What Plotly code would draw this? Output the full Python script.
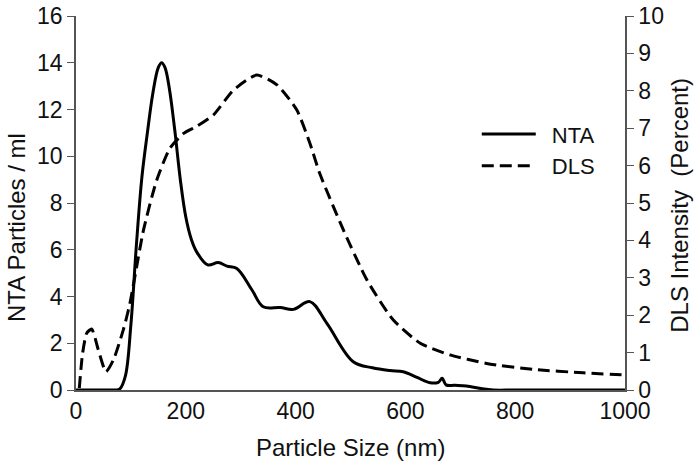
import plotly.graph_objects as go

# NTA (left axis, particles / ml)
nta_size = [0, 30, 60, 72, 80, 90, 100, 110, 120, 130, 140, 150, 156, 162, 170, 180, 190, 200, 210, 220, 240,
            259, 275, 293, 320, 341, 372, 396, 426, 457, 505, 540, 572, 596, 620, 645, 660, 667, 674, 690, 711,
            740, 760, 800, 900, 1000]
nta_val = [0, 0, 0, 0, 0.05, 0.6, 2.8, 6.2, 9.1, 11.0, 12.7, 13.8, 14.0, 13.8, 12.9, 11.1, 9.0, 7.4, 6.45, 5.9, 5.35,
           5.45, 5.3, 5.2, 4.3, 3.56, 3.53, 3.45, 3.78, 2.85, 1.21, 0.95, 0.83, 0.78, 0.55, 0.31, 0.33, 0.5, 0.22, 0.2, 0.17,
           0.05, 0, 0, 0, 0]

# DLS (right axis, intensity percent)
dls_size = [6, 12, 19.5, 28.5, 40.7, 54.6, 68, 86, 98, 123, 147, 171, 196, 220, 250, 287, 329, 366, 402, 426, 444,
            487, 530, 578, 627, 681, 748, 833, 924, 1000]
dls_val = [0.05, 0.98, 1.52, 1.63, 1.07, 0.49, 0.8, 1.6, 2.3, 4.28, 5.61, 6.46, 6.86, 7.05, 7.35, 8.02, 8.42, 8.16, 7.49, 6.6,
           5.79, 4.28, 2.94, 1.87, 1.25, 0.94, 0.71, 0.55, 0.46, 0.40]

x_ticks = [0, 200, 400, 600, 800, 1000]

FONT = "Liberation Sans, Arial, sans-serif"
AX = "#555555"
TXT = "#111111"

fig = go.Figure()
fig.add_trace(go.Scatter(x=nta_size, y=nta_val, name="\u2002NTA", mode="lines",
                         line=dict(color="black", width=3, shape="spline", smoothing=1.0)))
fig.add_trace(go.Scatter(x=dls_size, y=dls_val, name="\u2002DLS", mode="lines", yaxis="y2",
                         line=dict(color="black", width=3, dash="12px,6px", shape="spline", smoothing=0.6)))

fig.update_layout(
    width=700, height=467,
    margin=dict(l=76, r=75, t=16, b=77),
    paper_bgcolor="white", plot_bgcolor="white",
    font=dict(family=FONT, size=22, color=TXT),
    showlegend=True,
    legend=dict(x=0.73, y=0.74, xanchor="left", yanchor="top", bgcolor="rgba(0,0,0,0)",
                font=dict(size=22), itemwidth=54),
    xaxis=dict(range=[0, 1000], tickvals=x_ticks, showgrid=False, zeroline=False,
               showline=True, linecolor=AX, linewidth=1.5, ticks="", automargin=False,
               tickfont=dict(size=23)),
    yaxis=dict(range=[0, 16], dtick=2, showgrid=False, zeroline=False, automargin=False,
               showline=True, linecolor=AX, linewidth=1.5, ticks="outside", ticklen=7,
               tickcolor=AX, tickfont=dict(size=23)),
    yaxis2=dict(range=[0, 10], dtick=1, overlaying="y", side="right", showgrid=False, zeroline=False,
                automargin=False,
                showline=True, linecolor=AX, linewidth=1.5, ticks="outside", ticklen=7,
                tickcolor=AX, tickfont=dict(size=23)),
    annotations=[
        dict(text="Particle Size (nm)", xref="paper", yref="paper", x=0.5, y=-0.153,
             xanchor="center", yanchor="middle", showarrow=False, font=dict(size=24)),
        dict(text="NTA Particles / ml", xref="paper", yref="paper", x=-0.108, y=0.435,
             xanchor="center", yanchor="middle", textangle=-90, showarrow=False, font=dict(size=24)),
        dict(text="DLS Intensity  (Percent)", xref="paper", yref="paper", x=1.1, y=0.495,
             xanchor="center", yanchor="middle", textangle=-90, showarrow=False, font=dict(size=24)),
    ],
)

fig.write_html("out.html", config={"displayModeBar": False},
               post_script="document.body.style.margin='0px';")
